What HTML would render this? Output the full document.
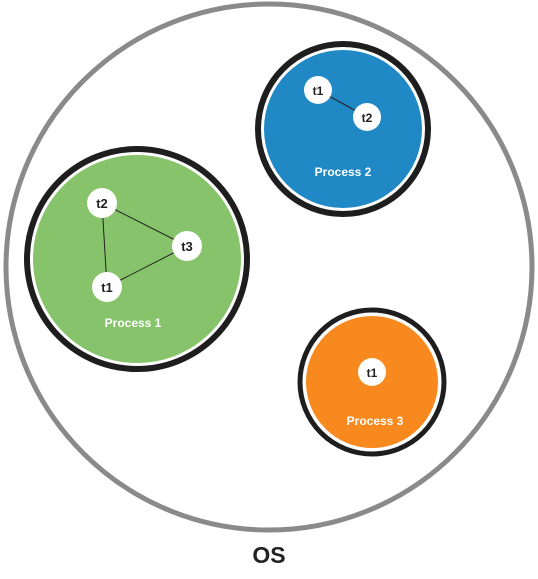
<!DOCTYPE html>
<html><head><style>body{margin:0;background:#fff}</style></head><body>
<svg width="538" height="574" viewBox="0 0 538 574" xmlns="http://www.w3.org/2000/svg" font-family="Liberation Sans, sans-serif" font-weight="bold">
<circle cx="269" cy="267" r="263" fill="#fff" stroke="#8a8a8a" stroke-width="5"/>
<circle cx="137" cy="259" r="110" fill="#fff" stroke="#1e1e1e" stroke-width="6"/>
<circle cx="137" cy="259" r="104" fill="#86c36a"/>
<g stroke="#222" stroke-width="1"><line x1="102" y1="203" x2="187" y2="246"/><line x1="102" y1="203" x2="107" y2="287"/><line x1="107" y1="287" x2="187" y2="246"/></g>
<g fill="#fff"><circle cx="102" cy="203" r="15"/><circle cx="187" cy="246" r="15"/><circle cx="107" cy="287" r="15"/></g>
<g font-size="13" fill="#222" text-anchor="middle"><text x="102" y="208">t2</text><text x="187" y="251">t3</text><text x="107" y="292">t1</text></g>
<text x="133" y="327" font-size="12" fill="#fff" text-anchor="middle">Process 1</text>
<circle cx="343" cy="129" r="85" fill="#fff" stroke="#1e1e1e" stroke-width="6"/>
<circle cx="343" cy="129" r="79" fill="#2089c5"/>
<line x1="318" y1="90" x2="367" y2="117" stroke="#222"/>
<circle cx="318" cy="90" r="14" fill="#fff"/><circle cx="367" cy="117" r="14" fill="#fff"/>
<g font-size="12" fill="#222" text-anchor="middle"><text x="318" y="95">t1</text><text x="367" y="122">t2</text></g>
<text x="343" y="176" font-size="12" fill="#fff" text-anchor="middle">Process 2</text>
<circle cx="372" cy="382" r="72" fill="#fff" stroke="#1e1e1e" stroke-width="5"/>
<circle cx="372" cy="382" r="66" fill="#f7891f"/>
<circle cx="372" cy="372" r="14" fill="#fff"/>
<text x="372" y="377" font-size="12" fill="#222" text-anchor="middle">t1</text>
<text x="375" y="425" font-size="12" fill="#fff" text-anchor="middle">Process 3</text>
<text x="269" y="563" font-size="23" fill="#222" text-anchor="middle">OS</text>
</svg>
</body></html>
